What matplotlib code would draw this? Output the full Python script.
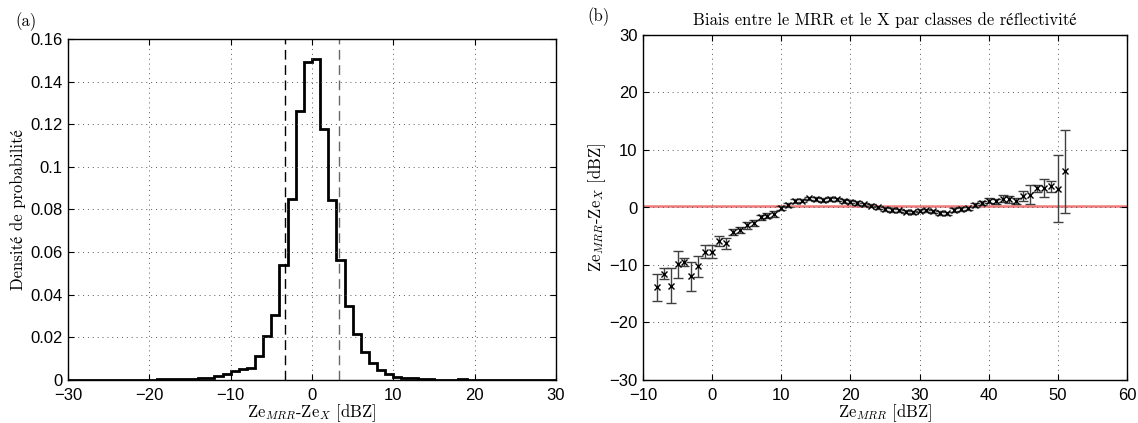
import matplotlib
matplotlib.use("Agg")
import matplotlib.pyplot as plt

plt.rcParams["mathtext.fontset"] = "cm"
plt.rcParams["font.family"] = ["Liberation Sans", "DejaVu Sans"]

# (a) histogram of Ze_MRR - Ze_X, 1 dBZ bins from -30 to 30
bin_edges = list(range(-30, 31))
density = [0, 0, 0.0001, 0.0001, 0.0001, 0.0002, 0.0001, 0.0002, 0.0002, 0.0001,
           0.0002, 0.0003, 0.0003, 0.0004, 0.0005, 0.0006, 0.0008, 0.0011, 0.0019, 0.003,
           0.0042, 0.005, 0.0058, 0.0113, 0.0207, 0.0305, 0.0539, 0.0849, 0.1263, 0.149,
           0.1506, 0.118, 0.0845, 0.0562, 0.0348, 0.0218, 0.0133, 0.0081, 0.0045, 0.003,
           0.0016, 0.0011, 0.0008, 0.0005, 0.0003, 0.0002, 0.0001, 0.0001, 0.0003, 0.0002,
           0, 0, 0, 0, 0, 0, 0, 0, 0, 0]
std_lines = [-3.3, 3.3]
hist_yticks = [0, 0.02, 0.04, 0.06, 0.08, 0.1, 0.12, 0.14, 0.16]
hist_ylabels = ["0", "0.02", "0.04", "0.06", "0.08", "0.1", "0.12", "0.14", "0.16"]

# (b) bias per reflectivity class
ze_mrr = list(range(-8, 52))
bias = [-13.9, -11.5, -13.6, -9.85, -9.4, -12.0, -10.2, -7.7,
        -7.7, -5.8, -6.2, -4.2, -3.9, -3.1, -2.7, -1.7, -1.4, -1.1,
        -0.1, 0.4, 1.2, 1.2, 1.6, 1.5, 1.3, 1.5, 1.4, 1.1,
        1.0, 0.8, 0.55, 0.3, 0.0, -0.3, -0.4, -0.5, -0.7, -0.85,
        -0.55, -0.5, -0.65, -0.95, -1.0, -0.4, -0.25, -0.15, 0.45, 0.8,
        1.2, 1.1, 1.55, 1.4, 1.1, 1.95, 2.25, 3.35, 3.4, 3.7, 3.25, 6.3]
bias_err = [2.4, 0.9, 3.05, 2.35, 0.7, 2.55, 1.85, 1.15,
            1.15, 0.9, 0.95, 0.5, 0.45, 0.6, 0.5, 0.45, 0.5, 0.55,
            0.4, 0.35, 0.35, 0.3, 0.3, 0.3, 0.3, 0.3, 0.3, 0.3,
            0.3, 0.3, 0.3, 0.3, 0.3, 0.3, 0.3, 0.3, 0.3, 0.3,
            0.3, 0.3, 0.3, 0.3, 0.3, 0.3, 0.3, 0.3, 0.35, 0.4,
            0.45, 0.45, 0.55, 0.6, 0.5, 0.9, 1.6, 0.6, 1.5, 0.95, 5.8, 7.25]
mean_bias = 0.3

serif = ["cmr10", "STIXGeneral"]
tick_fs = 12
lab_fs = 12

fig = plt.figure(figsize=(11.38, 4.23), dpi=100)
W, H = 1138, 423
ax1 = fig.add_axes([68 / W, 1 - 380 / H, (556 - 68) / W, (380 - 39) / H])
ax2 = fig.add_axes([643 / W, 1 - 380 / H, (1127 - 643) / W, (380 - 35) / H])

# --- panel (a)
ax1.stairs(density, bin_edges, color="k", lw=2)
ax1.axvline(std_lines[0], color="k", ls=(0, (7, 4)), lw=1)
ax1.axvline(std_lines[1], color="0.4", ls=(0, (7, 4)), lw=1)
ax1.set_xlim(-30, 30)
ax1.set_ylim(0, 0.16)
ax1.set_xticks([-30, -20, -10, 0, 10, 20, 30])
ax1.set_yticks(hist_yticks)
ax1.set_yticklabels(hist_ylabels)
ax1.set_xlabel(r"Ze$_{MRR}$-Ze$_X$ [dBZ]", family=serif, fontsize=lab_fs, labelpad=-1)
ax1.set_ylabel("Densité de probabilité", family=serif, fontsize=lab_fs, labelpad=3)
fig.text(15 / W, 1 - 22 / H, "(a)", family=serif, fontsize=lab_fs, va="center")

# --- panel (b)
ax2.axhline(mean_bias, color="#f06a6a", lw=1.8, alpha=0.9, zorder=1)
ax2.errorbar(ze_mrr, bias, yerr=bias_err, fmt="none", ecolor="0.25",
             elinewidth=1, capsize=3.5, capthick=1, zorder=2)
ax2.plot(ze_mrr, bias, "x", color="k", ms=4, mew=1, zorder=3)
ax2.set_xlim(-10, 60)
ax2.set_ylim(-30, 30)
ax2.set_xticks([-10, 0, 10, 20, 30, 40, 50, 60])
ax2.set_yticks([-30, -20, -10, 0, 10, 20, 30])
ax2.set_xlabel(r"Ze$_{MRR}$ [dBZ]", family=serif, fontsize=lab_fs, labelpad=-1)
ax2.set_ylabel(r"Ze$_{MRR}$-Ze$_X$ [dBZ]", family=serif, fontsize=lab_fs, labelpad=1)
ax2.set_title("Biais entre le MRR et le X par classes de réflectivité",
              family=serif, fontsize=lab_fs, pad=7)
fig.text(587 / W, 1 - 17 / H, "(b)", family=serif, fontsize=lab_fs, va="center")

for ax in (ax1, ax2):
    ax.grid(True, ls=(0, (1, 4)), color="0.35", lw=0.7)
    ax.tick_params(direction="in", top=True, right=True, length=4,
                   labelsize=tick_fs, width=0.8)
    ax.tick_params(axis="x", pad=6)
    ax.tick_params(axis="y", pad=4)
    for s in ax.spines.values():
        s.set_linewidth(1.0)

fig.savefig("out.png", dpi=100)
